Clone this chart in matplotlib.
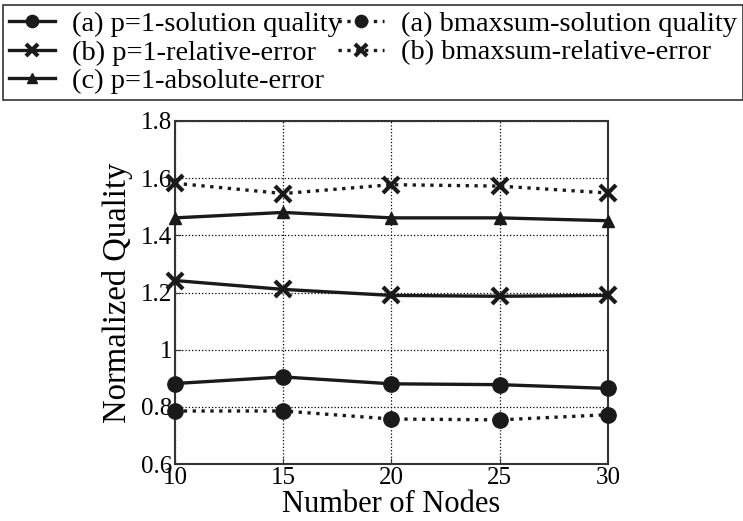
import matplotlib
matplotlib.use('Agg')
import matplotlib.pyplot as plt

plt.rcParams['font.family'] = ['Liberation Serif', 'DejaVu Serif']

nodes = [10, 15, 20, 25, 30]
p1_quality = [0.882, 0.905, 0.881, 0.878, 0.865]
bm_quality = [0.786, 0.786, 0.758, 0.755, 0.773]
p1_rel_err = [1.242, 1.211, 1.190, 1.187, 1.190]
bm_rel_err = [1.582, 1.546, 1.577, 1.572, 1.548]
p1_abs_err = [1.461, 1.480, 1.461, 1.461, 1.451]

fig = plt.figure(figsize=(7.43, 5.21), dpi=100)
ax = fig.add_axes([0.2355, 0.109, 0.5825, 0.659])

lw = 2.4
ms = 11
kw = dict(color='#1a1a1a', lw=lw, clip_on=False, zorder=3)
l1, = ax.plot(nodes, p1_quality, '-', marker='o', ms=ms, label='(a) p=1-solution quality', **kw)
l2, = ax.plot(nodes, p1_rel_err, '-', marker='x', ms=ms, mew=3, label='(b) p=1-relative-error', **kw)
l3, = ax.plot(nodes, p1_abs_err, '-', marker='^', ms=9, label='(c) p=1-absolute-error', **kw)
l4, = ax.plot(nodes, bm_quality, ':', marker='o', ms=ms, label='(a) bmaxsum-solution quality', **kw)
l5, = ax.plot(nodes, bm_rel_err, ':', marker='x', ms=ms, mew=3, label='(b) bmaxsum-relative-error', **kw)

ax.set_xlim(10, 30)
ax.set_ylim(0.6, 1.8)
ax.set_xticks(nodes)
ax.set_yticks([0.6, 0.8, 1.0, 1.2, 1.4, 1.6, 1.8])
ax.set_yticklabels(['0.6', '0.8', '1', '1.2', '1.4', '1.6', '1.8'])
ax.tick_params(labelsize=18, direction='in', length=4, color='#333333', pad=2)
ax.grid(True, linestyle=':', color='black', lw=0.9)
for s in ax.spines.values():
    s.set_linewidth(1.5)
    s.set_color('#333333')
ax.set_xlabel('Number of Nodes', fontsize=22, labelpad=1)
ax.set_ylabel('Normalized Quality', fontsize=23.5, labelpad=6)

leg = fig.legend(handles=[l1, l2, l3, l4, l5], loc='upper left', ncol=2,
                 bbox_to_anchor=(0.004, 0.81, 0.996, 0.18), mode='expand',
                 fontsize=20.5, frameon=True, fancybox=False, edgecolor='black',
                 handlelength=1.6, handletextpad=0.6, columnspacing=0.15,
                 borderaxespad=0, borderpad=0.22, labelspacing=0.08, markerscale=0.8)
leg.get_frame().set_linewidth(1.2)

fig.savefig('out.png', dpi=100)
